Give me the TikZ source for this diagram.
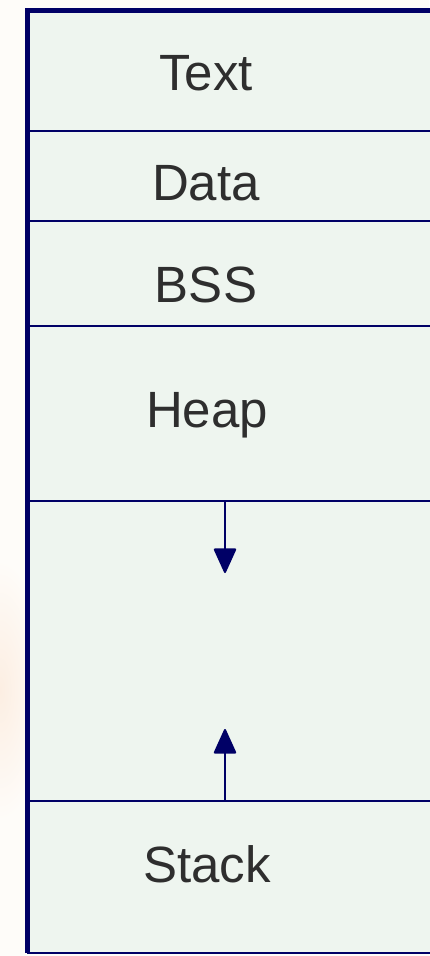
\documentclass[tikz,border=0pt]{standalone}
\usepackage{fontspec}
\setmainfont{Liberation Sans}
\usetikzlibrary{arrows.meta}
\definecolor{navy}{HTML}{000066}
\definecolor{boxfill}{HTML}{EEF5EF}
\definecolor{outside}{HTML}{FEFCF9}
\definecolor{glow}{HTML}{FCEEE2}
\definecolor{txt}{HTML}{2E2E2E}
\begin{document}
\begin{tikzpicture}[x=1pt,y=-1pt,
  lbl/.style={text=txt,font=\fontsize{51}{60}\selectfont,inner sep=0pt,anchor=base},
  divider/.style={draw=navy,line width=2pt},
  growarrow/.style={navy,line width=2pt,-{Triangle[width=23pt,length=26pt,round]}}]
\fill[outside] (0,0) rectangle (429,956);
\useasboundingbox (0,0) rectangle (429,956);
\shade[inner color=glow,outer color=outside] (0,690) ellipse (45 and 130);
\fill[boxfill] (27,10) rectangle (440,953);
% dividers
\coordinate (d1l) at (27,131); \coordinate (d1r) at (440,131);
\coordinate (d2l) at (27,221); \coordinate (d2r) at (440,221);
\coordinate (d3l) at (27,326); \coordinate (d3r) at (440,326);
\coordinate (d4l) at (27,501); \coordinate (d4r) at (440,501);
\coordinate (d5l) at (27,801); \coordinate (d5r) at (440,801);
\draw[divider] (d1l) -- (d1r);
\draw[divider] (d2l) -- (d2r);
\draw[divider] (d3l) -- (d3r);
\draw[divider] (d4l) -- (d4r);
\draw[divider] (d5l) -- (d5r);
% outer border
\draw[navy,line width=1.5pt] (27,953) -- (440,953);
\draw[navy,line width=5pt] (27,953) -- (27,10) -- (440,10);
% labels
\node[lbl] (text) at (206,90) {Text};
\node[lbl] (data) at (206,200) {Data};
\node[lbl] (bss) at (206,302) {BSS};
\node[lbl] (heap) at (207,427) {Heap};
\node[lbl] (stack) at (207,882) {Stack};
% growth arrows
\coordinate (hs) at (225,501); \coordinate (he) at (225,573);
\coordinate (ss) at (225,801); \coordinate (se) at (225,729);
\draw[growarrow] (hs) -- (he);
\draw[growarrow] (ss) -- (se);
\end{tikzpicture}
\end{document}
